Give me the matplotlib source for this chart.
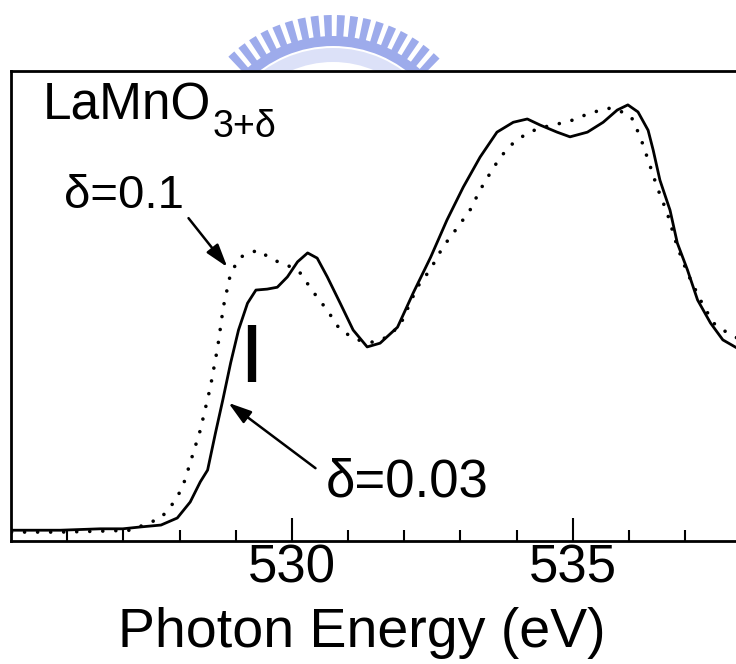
import matplotlib
matplotlib.use('Agg')
import matplotlib.pyplot as plt
from matplotlib.patches import Wedge
import numpy as np

plt.rcParams['font.family'] = ['Liberation Sans', 'DejaVu Sans']

# O K-edge XAS, LaMnO3+d  (arb. units)
energy_003 = [525.01, 525.88, 526.59, 526.99, 527.31, 527.67, 527.96, 528.19, 528.37, 528.50,
              528.64, 528.77, 528.91, 529.05, 529.21, 529.36, 529.56, 529.74, 529.92, 530.10,
              530.28, 530.45, 530.63, 530.86, 531.09, 531.34, 531.57, 531.88, 532.16, 532.47,
              532.76, 533.05, 533.35, 533.65, 533.94, 534.19, 534.42, 534.72, 534.95, 535.26,
              535.54, 535.79, 535.98, 536.16, 536.34, 536.43, 536.55, 536.73, 536.86, 537.04,
              537.22, 537.45, 537.67, 537.99]
intensity_003 = [0.023, 0.023, 0.026, 0.026, 0.030, 0.034, 0.049, 0.083, 0.126, 0.151,
                 0.230, 0.300, 0.379, 0.449, 0.506, 0.534, 0.536, 0.540, 0.562, 0.594,
                 0.613, 0.602, 0.562, 0.506, 0.449, 0.413, 0.421, 0.455, 0.528, 0.604,
                 0.683, 0.753, 0.817, 0.870, 0.891, 0.898, 0.885, 0.870, 0.860, 0.870,
                 0.891, 0.917, 0.928, 0.913, 0.874, 0.832, 0.768, 0.704, 0.634, 0.577,
                 0.513, 0.464, 0.428, 0.406]

energy_01 = [525.01, 525.88, 526.59, 527.13, 527.36, 527.67, 527.89, 528.05, 528.14, 528.37,
             528.55, 528.68, 528.78, 528.91, 529.08, 529.39, 529.67, 529.92, 530.15, 530.38,
             530.63, 530.86, 531.16, 531.45, 531.70, 531.93, 532.23, 532.46, 532.69, 532.94,
             533.17, 533.35, 533.53, 533.71, 533.94, 534.19, 534.42, 534.72, 535.01, 535.31,
             535.66, 535.93, 536.05, 536.20, 536.34, 536.50, 536.68, 536.86, 537.04, 537.27,
             537.50, 537.75, 537.99]
intensity_01 = [0.019, 0.019, 0.021, 0.023, 0.034, 0.049, 0.081, 0.113, 0.147, 0.236,
                0.328, 0.413, 0.498, 0.570, 0.604, 0.619, 0.598, 0.587, 0.570, 0.530,
                0.491, 0.449, 0.428, 0.423, 0.434, 0.460, 0.540, 0.577, 0.626, 0.666,
                0.704, 0.747, 0.783, 0.817, 0.847, 0.868, 0.879, 0.887, 0.896, 0.911,
                0.921, 0.911, 0.900, 0.860, 0.811, 0.753, 0.698, 0.626, 0.570, 0.513,
                0.464, 0.443, 0.428]

major_ticks = [530, 535]
minor_ticks = [526, 527, 528, 529, 531, 532, 533, 534, 536, 537]

fig = plt.figure(figsize=(7.36, 6.64), dpi=100)
ax = fig.add_axes([0.0149, 0.1852, 0.9924, 0.7078])
ax.set_zorder(1)
ax.patch.set_facecolor('white')

# watermark logo behind the frame
wm = fig.add_axes([0, 0, 1, 1])
wm.set_zorder(0)
wm.set_xlim(0, 736)
wm.set_ylim(0, 664)
wm.axis('off')
wm_col = '#9dabeb'
for a in np.arange(45.5, 135, 5.0):
    wm.add_patch(Wedge((333, 497), 152, a, a + 3.0, width=22, color=wm_col, lw=0))
wm.add_patch(Wedge((333, 497), 131, 44, 136, width=10, color=wm_col, lw=0))
wm.add_patch(Wedge((333, 497), 119, 42, 138, width=14, color=wm_col, alpha=0.35, lw=0))

ax.plot(energy_003, intensity_003, color='black', lw=2.0)
ax.plot(energy_01, intensity_01, color='black', lw=2.6,
        linestyle=(0, (0.01, 3.6)), dash_capstyle='round')

ax.set_xlim(525, 538)
ax.set_ylim(0, 1)
ax.set_yticks([])
ax.set_xticks(major_ticks)
ax.set_xticks(minor_ticks, minor=True)
ax.tick_params(axis='x', which='major', direction='in', length=16.5, width=1.5,
               labelsize=38, pad=2)
ax.tick_params(axis='x', which='minor', direction='in', length=8, width=1.5)
for s in ax.spines.values():
    s.set_linewidth(2.0)

ax.set_xlabel('Photon Energy (eV)', fontsize=40)
ax.xaxis.set_label_coords(0.481, -0.140)

t = ax.text(525.56, 0.897, 'LaMnO', fontsize=37, va='baseline', ha='left')
ax.annotate('3+δ', xy=(1, 0), xycoords=t, xytext=(1, -5), textcoords='offset points',
            fontsize=27, va='baseline', ha='left')
ax.text(525.94, 0.709, 'δ=0.1', fontsize=34, va='baseline', ha='left')
ax.text(530.60, 0.094, 'δ=0.03', fontsize=38, va='baseline', ha='left')

arrow = dict(arrowstyle='-|>,head_length=0.7,head_width=0.22', lw=1.8, color='black',
             mutation_scale=20, shrinkA=0, shrinkB=0)
ax.annotate('', xy=(528.85, 0.583), xytext=(528.16, 0.687), arrowprops=arrow)
ax.annotate('', xy=(528.87, 0.294), xytext=(530.42, 0.155), arrowprops=arrow)

# vertical marker bar
ax.plot([529.29, 529.29], [0.338, 0.460], color='black', lw=6, solid_capstyle='butt')

fig.savefig('out.png', dpi=100)
